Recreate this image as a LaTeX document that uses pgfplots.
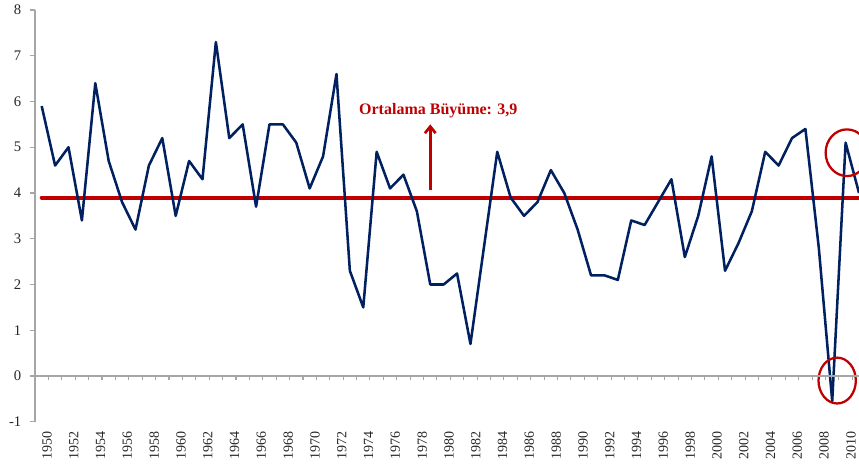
\documentclass[border=0pt]{standalone}
\usepackage{fontspec}
\setmainfont{Liberation Serif}
\usepackage{pgfplots}
\pgfplotsset{compat=1.18}
\usetikzlibrary{arrows.meta}
\definecolor{navy}{HTML}{002060}
\definecolor{darkred}{HTML}{C00000}
\definecolor{axgray}{HTML}{A6A6A6}
\begin{document}
\begin{tikzpicture}
\begin{axis}[
  name=main,
  scale only axis,
  width=618pt, height=308.8pt,
  xmin=1949.5, xmax=2011.0,
  ymin=-1, ymax=8,
  axis x line*=bottom,
  axis y line*=left,
  x axis line style={draw=none},
  y axis line style={axgray, line width=0.8pt, -},
  xtick={1950,1952,...,2010},
  ytick={-1,0,...,8},
  xtick style={draw=none},
  ytick style={axgray, line width=0.8pt},
  tick align=outside,
  major tick length=3.75pt,
  /pgf/number format/assume math mode=true,
  /pgf/number format/1000 sep={},
  xticklabel style={rotate=90, anchor=east, font=\fontsize{10.5}{12}\selectfont, text=black!85, yshift=-4pt},
  yticklabel style={font=\fontsize{11}{13}\selectfont, text=black!85, xshift=-3pt},
  clip=true,
]
\addplot[darkred, line width=3pt, line cap=round] coordinates {
(1950,3.9) (1960,3.9) (1970,3.9) (1980,3.9) (1990,3.9) (2000,3.9) (2011,3.9)
};
\addplot[navy, line width=1.9pt, line join=round] coordinates {
(1950,5.9) (1951,4.6) (1952,5.0) (1953,3.4) (1954,6.4) (1955,4.7) (1956,3.8) (1957,3.2)
(1958,4.6) (1959,5.2) (1960,3.5) (1961,4.7) (1962,4.3) (1963,7.3) (1964,5.2) (1965,5.5)
(1966,3.7) (1967,5.5) (1968,5.5) (1969,5.1) (1970,4.1) (1971,4.8) (1972,6.6) (1973,2.3)
(1974,1.5) (1975,4.9) (1976,4.1) (1977,4.4) (1978,3.6) (1979,2.0) (1980,2.0) (1981,2.24)
(1982,0.7) (1983,2.8) (1984,4.9) (1985,3.9) (1986,3.5) (1987,3.8) (1988,4.5) (1989,4.0)
(1990,3.2) (1991,2.2) (1992,2.2) (1993,2.1) (1994,3.4) (1995,3.3) (1996,3.8) (1997,4.3)
(1998,2.6) (1999,3.5) (2000,4.8) (2001,2.3) (2002,2.9) (2003,3.6) (2004,4.9) (2005,4.6)
(2006,5.2) (2007,5.4) (2008,2.8) (2009,-0.55) (2010,5.1) (2011,4.0)
};
\draw[darkred, line width=1.7pt] (axis cs:2010.1,4.88) ellipse [x radius=16pt, y radius=17.5pt];
\draw[darkred, line width=1.7pt] (axis cs:2009.37,-0.1) ellipse [x radius=14pt, y radius=17.2pt];
\draw[darkred, line width=2pt, -{Straight Barb[length=5pt,width=8pt,line width=2pt]}] (axis cs:1979,4.06) -- (axis cs:1979,5.5);
\node[font=\bfseries\fontsize{12}{14}\selectfont, text=darkred] at (axis cs:1979.6,5.81) {Ortalama Büyüme: 3,9};
\coordinate (BL) at (rel axis cs:0,0);
\coordinate (TR) at (rel axis cs:1,1);
\end{axis}
\begin{axis}[
  scale only axis,
  width=618pt, height=308.8pt,
  xmin=1949.5, xmax=2011.0,
  ymin=-1, ymax=8,
  axis x line=middle,
  axis y line=none,
  x axis line style={axgray, line width=0.8pt, -},
  xtick={1949.5,1950.5,...,2010.5},
  xticklabels={},
  ytick=\empty,
  xtick style={axgray, line width=0.8pt},
  tick align=outside,
  major tick length=3pt,
]
\end{axis}
\pgfresetboundingbox
\path[use as bounding box] ([xshift=-26.25pt,yshift=-33.2pt]BL) rectangle ([yshift=7.5pt]TR);
\end{tikzpicture}
\end{document}
